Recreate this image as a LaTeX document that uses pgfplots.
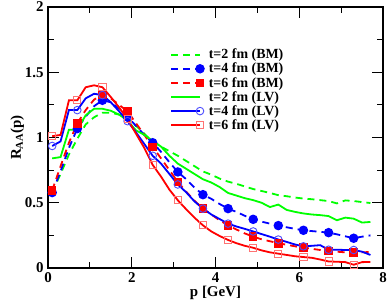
\documentclass[border=0pt]{standalone}
\usepackage{pgfplots}
\pgfplotsset{compat=1.18}
\usepackage{fontspec}
\setmainfont{Liberation Serif}

\pgfplotstableread{
p gd gs bd rd bs rs
0.1 0.58 0.84 0.578 0.595 0.935 1.01
0.3 0.72 0.85 0.74 0.78 0.97 1.02
0.5 0.87 1.06 0.92 0.96 1.21 1.285
0.7 0.99 1.06 1.068 1.108 1.21 1.285
0.9 1.10 1.17 1.16 1.21 1.30 1.385
1.1 1.155 1.22 1.24 1.29 1.335 1.40
1.3 1.19 1.22 1.285 1.33 1.325 1.385
1.5 1.19 1.205 1.27 1.30 1.27 1.31
1.7 1.175 1.175 1.22 1.25 1.20 1.23
1.9 1.15 1.13 1.157 1.20 1.125 1.14
2.1 1.09 1.055 1.09 1.11 1.04 1.03
2.3 1.03 1.02 1.02 1.02 0.95 0.92
2.5 0.965 0.975 0.96 0.927 0.86 0.79
2.7 0.93 0.93 0.89 0.84 0.80 0.70
2.9 0.895 0.86 0.81 0.75 0.72 0.60
3.1 0.86 0.80 0.736 0.66 0.64 0.519
3.3 0.82 0.76 0.68 0.585 0.58 0.45
3.5 0.78 0.72 0.615 0.515 0.51 0.385
3.7 0.74 0.68 0.562 0.455 0.455 0.327
3.9 0.715 0.655 0.53 0.41 0.41 0.28
4.1 0.685 0.62 0.49 0.365 0.375 0.245
4.3 0.662 0.575 0.455 0.327 0.34 0.215
4.5 0.645 0.555 0.43 0.295 0.318 0.19
4.7 0.625 0.535 0.40 0.265 0.30 0.17
4.9 0.605 0.52 0.373 0.24 0.28 0.155
5.1 0.59 0.50 0.355 0.22 0.26 0.135
5.3 0.575 0.467 0.34 0.205 0.24 0.12
5.5 0.558 0.486 0.325 0.19 0.218 0.11
5.7 0.55 0.445 0.312 0.178 0.20 0.10
5.9 0.54 0.43 0.30 0.166 0.18 0.09
6.1 0.532 0.418 0.289 0.156 0.166 0.084
6.3 0.527 0.41 0.283 0.147 0.17 0.078
6.5 0.52 0.405 0.277 0.138 0.175 0.065
6.7 0.513 0.398 0.271 0.13 0.14 0.05
6.9 0.495 0.366 0.258 0.125 0.14 0.048
7.1 0.518 0.386 0.243 0.12 0.138 0.045
7.3 0.513 0.378 0.228 0.118 0.138 0.025
7.5 0.505 0.348 0.24 0.12 0.125 0.045
7.7 0.498 0.353 0.25 0.123 0.10 0.046
}\data

\begin{document}
\begin{tikzpicture}
\begin{axis}[
  name=ax,
  scale only axis,
  width=335bp, height=261bp,
  xmin=0, xmax=8, ymin=0, ymax=2,
  xtick={0,2,4,6,8},
  ytick={0,0.5,1,1.5,2},
  minor x tick num=1,
  minor y tick num=1,
  tick align=inside,
  major tick length=11bp,
  minor tick length=6bp,
  every tick/.style={black, line width=1.1bp},
  axis line style={line width=1.3bp},
  /pgf/number format/assume math mode=true,
  ticklabel style={font=\fontsize{15}{17}\selectfont\bfseries},
  xticklabel style={yshift=-1bp},
  yticklabel style={xshift=-1bp},
  xlabel={\fontsize{15}{17}\selectfont\bfseries p [GeV]},
  ylabel={\fontsize{15}{17}\selectfont\bfseries R\textsubscript{AA}(p)},
  xlabel style={yshift=3bp},
  ylabel style={yshift=-6bp},
  legend cell align=left,
  legend style={draw=none, fill=none, at={(rel axis cs:0.355,0.855)}, anchor=north west,
    font=\fontsize{14}{16}\selectfont\bfseries, row sep=-1.2bp,
    /tikz/every odd column/.append style={column sep=3bp}},
  legend image code/.code={\draw[#1, mark repeat=3, mark phase=2] plot coordinates {(0bp,0bp) (29bp,0bp)};},
  every axis plot/.append style={line width=1.8bp, mark repeat=3, mark phase=1},
]
\coordinate (ll) at (rel axis cs:0,0);
\addplot[green, dash pattern=on 7bp off 5bp, no marks] table[x=p,y=gd] {\data};
\addlegendentry{t=2 fm (BM)}
\addplot[blue, dash pattern=on 7bp off 5bp, mark=*, mark size=3.8bp, mark options={solid, fill=blue}] table[x=p,y=bd] {\data};
\addlegendentry{t=4 fm (BM)}
\addplot[red, dash pattern=on 7bp off 5bp, mark=square*, mark size=3.4bp, mark options={solid, fill=red}] table[x=p,y=rd] {\data};
\addlegendentry{t=6 fm (BM)}
\addplot[green, solid, no marks] table[x=p,y=gs] {\data};
\addlegendentry{t=2 fm (LV)}
\addplot[blue, solid, mark=o, mark size=3.8bp, mark options={solid, line width=0.9bp, draw=blue!70}] table[x=p,y=bs] {\data};
\addlegendentry{t=4 fm (LV)}
\addplot[red, solid, mark=square, mark size=3.6bp, mark options={solid, line width=0.9bp, draw=red!55}] table[x=p,y=rs] {\data};
\addlegendentry{t=6 fm (LV)}
\end{axis}
\pgfresetboundingbox
\path (ll) ++(-48bp,-36bp) rectangle ++(391bp,304bp);
\end{tikzpicture}
\end{document}
